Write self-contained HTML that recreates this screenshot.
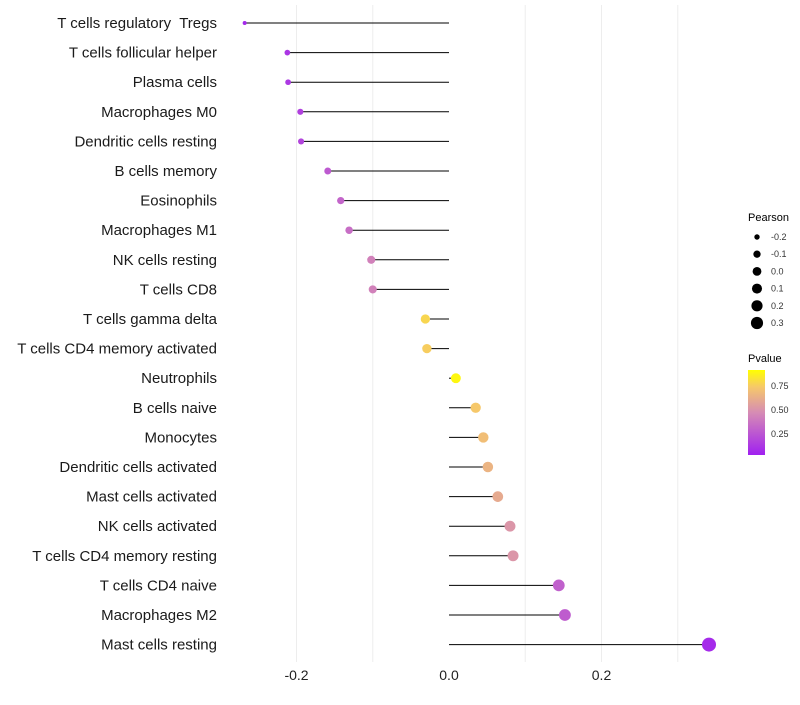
<!DOCTYPE html>
<html><head><meta charset="utf-8"><style>
body{margin:0;background:#fff;font-family:"Liberation Sans",sans-serif;}
</style></head><body>
<svg id="chart" width="800" height="700" xmlns="http://www.w3.org/2000/svg" font-family="Liberation Sans, sans-serif">
<defs>
<linearGradient id="pg" x1="0" y1="1" x2="0" y2="0">
<stop offset="0" stop-color="#a020f0"/>
<stop offset="0.5" stop-color="#d68cb4"/>
<stop offset="0.8" stop-color="#f6c86a"/>
<stop offset="1" stop-color="#ffff00"/>
</linearGradient>
</defs>
<g id="grid"></g><g id="marks"></g><g id="labels"></g>
<g id="sizeleg">
<text x="748" y="221" font-size="11" fill="#000">Pearson</text>
</g>
<g>
<text x="748" y="362" font-size="11" fill="#000">Pvalue</text>
<rect x="748" y="370" width="17" height="85" fill="url(#pg)"/>
<text x="771" y="389" font-size="9" fill="#333">0.75</text>
<text x="771" y="413" font-size="9" fill="#333">0.50</text>
<text x="771" y="437" font-size="9" fill="#333">0.25</text>
</g>
</svg>
<script>
const cells=["T cells regulatory  Tregs","T cells follicular helper","Plasma cells","Macrophages M0","Dendritic cells resting","B cells memory","Eosinophils","Macrophages M1","NK cells resting","T cells CD8","T cells gamma delta","T cells CD4 memory activated","Neutrophils","B cells naive","Monocytes","Dendritic cells activated","Mast cells activated","NK cells activated","T cells CD4 memory resting","T cells CD4 naive","Macrophages M2","Mast cells resting"];
const pearson=[-0.268,-0.212,-0.211,-0.195,-0.194,-0.159,-0.142,-0.131,-0.102,-0.100,-0.031,-0.029,0.009,0.035,0.045,0.051,0.064,0.080,0.084,0.144,0.152,0.341];
const pvalue=[0.04,0.1,0.11,0.15,0.17,0.27,0.32,0.36,0.45,0.45,0.85,0.82,0.97,0.8,0.75,0.7,0.65,0.55,0.55,0.3,0.28,0.05];
const xTicks=[-0.2,0.0,0.2];
const gridVals=[-0.2,-0.1,0.1,0.2,0.3];
const sizeLegend=[-0.2,-0.1,0.0,0.1,0.2,0.3];
const NS="http://www.w3.org/2000/svg";
const x=v=>449+v*762.5;
const y=i=>23+i*29.6;
const r=v=>Math.sqrt(Math.max(3,23.8+74*v));
function col(p){
 const st=[[0,[160,32,240]],[0.5,[214,140,180]],[0.8,[246,200,106]],[1,[255,255,0]]];
 for(let k=1;k<st.length;k++){if(p<=st[k][0]){const a=st[k-1],b=st[k];const t=(p-a[0])/(b[0]-a[0]);return "rgb("+a[1].map((c,j)=>Math.round(c+(b[1][j]-c)*t)).join(",")+")";}}
 return "rgb(255,255,0)";
}
function mk(tag,at,parent){const e=document.createElementNS(NS,tag);for(const k in at)e.setAttribute(k,at[k]);document.getElementById(parent).appendChild(e);return e;}
gridVals.forEach(v=>{
 const g=mk("line",{x1:x(v),x2:x(v),y1:5,y2:662,stroke:"#ededed","stroke-width":1},"grid");
 
 
});
xTicks.forEach(v=>{
 const t=mk("text",{x:x(v),y:680,"font-size":14,"text-anchor":"middle",fill:"#222"},"labels");
 t.textContent=v.toFixed(1);
 
 
});
cells.forEach((c,i)=>{
 const l=mk("line",{x1:x(0),x2:x(pearson[i]),y1:y(i),y2:y(i),stroke:"#000","stroke-width":1},"marks");
 
 
 const d=mk("circle",{cx:x(pearson[i]),cy:y(i),r:r(pearson[i]),fill:col(pvalue[i])},"marks");
 
 
 const t=mk("text",{x:217,y:y(i)+5,"font-size":15,"text-anchor":"end",fill:"#1a1a1a","xml:space":"preserve"},"labels");
 t.setAttribute("style","white-space:pre");
 t.textContent=c;
 
 
});
sizeLegend.forEach((v,i)=>{
 const yy=237+i*17.2;
 const d=mk("circle",{cx:757,cy:yy,r:Math.max(2.5,r(v)*0.9),fill:"#000"},"sizeleg");
 
 
 const t=mk("text",{x:771,y:yy+3,"font-size":9,fill:"#333"},"sizeleg");
 t.textContent=v.toFixed(1);
 
 
});
</script>
</body></html>
